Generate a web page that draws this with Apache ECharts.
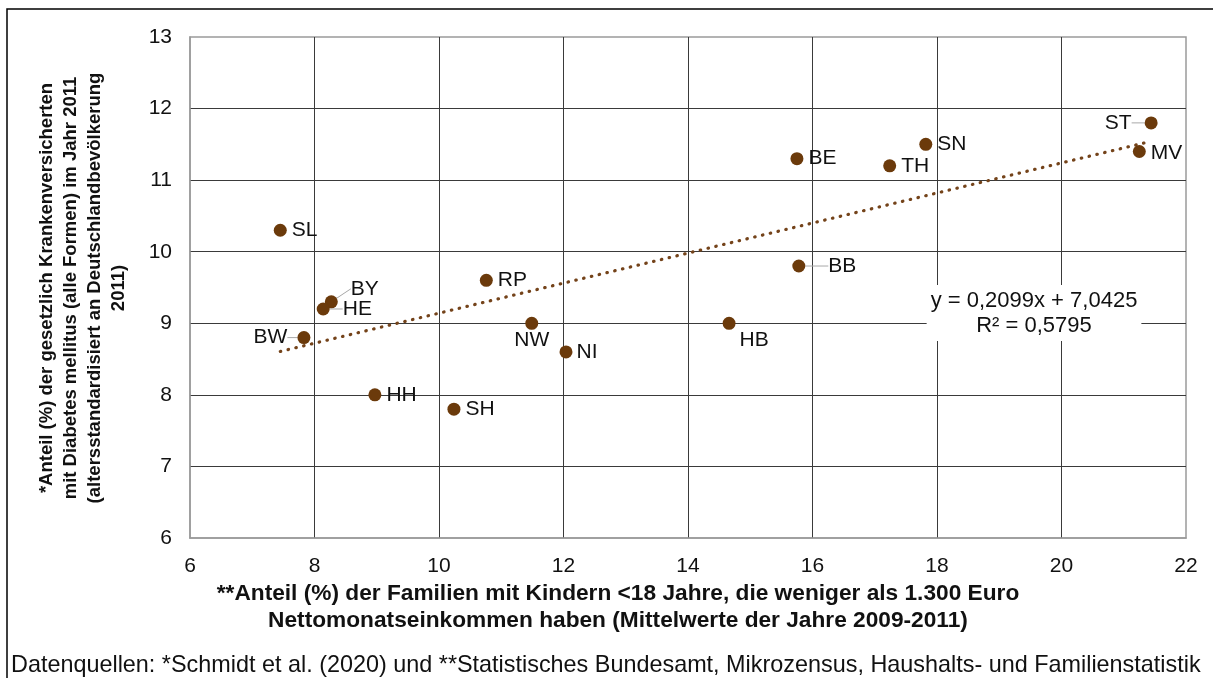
<!DOCTYPE html>
<html>
<head>
<meta charset="utf-8">
<script src="https://cdn.jsdelivr.net/npm/echarts@6/dist/echarts.min.js"></script>
<style>
  html, body { margin: 0; padding: 0; background: #fff; }
  #chart { width: 1213px; height: 678px; }
</style>
</head>
<body>
<div id="chart"></div>
<script>
// Bundesländer: Familien mit geringem Einkommen vs. Diabetes-Anteil
const states = ['SL', 'BY', 'HE', 'BW', 'HH', 'SH', 'RP', 'NW', 'NI', 'HB', 'BB', 'BE', 'TH', 'SN', 'ST', 'MV'];
const incomeShare = [7.45, 8.27, 8.14, 7.83, 8.97, 10.24, 10.76, 11.49, 12.04, 14.66, 15.78, 15.75, 17.24, 17.82, 21.44, 21.25];
const diabetesShare = [10.3, 9.3, 9.2, 8.8, 8.0, 7.8, 9.6, 9.0, 8.6, 9.0, 9.8, 11.3, 11.2, 11.5, 11.8, 11.4];

// Linear trend as stated in the equation label
const trendSlope = 0.2099;
const trendIntercept = 7.0425;
const trendR2 = 0.5795;

const xTicks = [6, 8, 10, 12, 14, 16, 18, 20, 22];
const yTicks = [6, 7, 8, 9, 10, 11, 12, 13];

const fmt = (v, d) => v.toFixed(d).replace('.', ',');

// Label placement: [position, distance, dx, dy, leader line]
const labelPos = {
  SL: ['right', 5, 0, 0, false], BY: ['right', 5, 8, -13, true], HE: ['right', 5, 8, 0, true],
  BW: ['left', 5, -5, 0, true], HH: ['right', 5, 0, 0, false], SH: ['right', 5, 0, 0, false],
  RP: ['right', 5, 0, 0, false], NW: ['bottom', 0, 0, 0, false], NI: ['right', 4, 0, 0, false],
  HB: [[17, 13], 0, 0, 0, false], BB: ['right', 5, 18, 0, true], BE: ['right', 5, 0, 0, false],
  TH: ['right', 5, 0, 0, false], SN: ['right', 5, 0, 0, false], ST: ['left', 5, -8, 0, true],
  MV: ['right', 5, 0, 2, false]
};

const points = states.map((s, i) => {
  const lp = labelPos[s];
  return {
    name: s,
    value: [incomeShare[i], diabetesShare[i]],
    label: { position: lp[0], distance: lp[1] },
    labelLine: { show: lp[4] }
  };
});
const xMin = Math.min(...incomeShare), xMax = Math.max(...incomeShare);
const trend = [[xMin, trendSlope * xMin + trendIntercept], [xMax, trendSlope * xMax + trendIntercept]];

const brown = '#6B3A0B';
const font = '"Liberation Sans", Arial, sans-serif';

const chart = echarts.init(document.getElementById('chart'), null, { renderer: 'canvas' });
chart.setOption({
  animation: false,
  backgroundColor: '#fff',
  grid: { left: 190, right: 27, top: 37, bottom: 140, show: true, borderColor: '#9a9a9a', borderWidth: 1.5 },
  xAxis: {
    type: 'value', min: xTicks[0], max: xTicks[xTicks.length - 1], interval: 2,
    axisLine: { show: true, onZero: false, lineStyle: { color: '#9a9a9a', width: 1.5 } },
    axisTick: { show: false },
    axisLabel: { color: '#111', fontSize: 21, fontFamily: font, margin: 18 },
    splitLine: { show: true, showMinLine: false, showMaxLine: false, lineStyle: { color: '#3a3a3a', width: 1 } }
  },
  yAxis: {
    type: 'value', min: yTicks[0], max: yTicks[yTicks.length - 1], interval: 1,
    axisLine: { show: true, onZero: false, lineStyle: { color: '#9a9a9a', width: 1.5 } },
    axisTick: { show: false },
    axisLabel: { color: '#111', fontSize: 21, fontFamily: font, margin: 18 },
    splitLine: { show: true, showMinLine: false, showMaxLine: false, lineStyle: { color: '#3a3a3a', width: 1 } }
  },
  series: [
    {
      type: 'line',
      data: trend,
      showSymbol: false,
      symbol: 'none',
      lineStyle: { color: '#74431a', width: 3.2, type: [0.5, 7.5], cap: 'round' },
      silent: true,
      z: 2
    },
    {
      type: 'scatter',
      data: points,
      symbolSize: 13,
      itemStyle: { color: brown, opacity: 1 },
      label: {
        show: true,
        formatter: p => p.name,
        color: '#111',
        fontSize: 21,
        fontFamily: font
      },
      labelLine: { lineStyle: { color: '#a8a8a8', width: 1 } },
      labelLayout: params => {
        const lp = labelPos[states[params.dataIndex]];
        return { dx: lp[2], dy: lp[3] };
      },
      z: 3
    }
  ],
  graphic: [
    { type: 'polyline', shape: { points: [[7, 690], [7, 9], [1220, 9]] }, style: { stroke: '#000', lineWidth: 1.5, fill: null } },
    {
      type: 'text', x: 83, y: 288, rotation: Math.PI / 2,
      style: {
        text: '*Anteil (%) der gesetzlich Krankenversicherten\nmit Diabetes mellitus (alle Formen) im Jahr 2011\n(altersstandardisiert an Deutschlandbevölkerung\n2011)',
        font: 'bold 18.5px ' + font, fill: '#111', align: 'center', verticalAlign: 'middle', lineHeight: 24
      }
    },
    {
      type: 'text', x: 618, y: 607,
      style: {
        text: '**Anteil (%) der Familien mit Kindern <18 Jahre, die weniger als 1.300 Euro\nNettomonatseinkommen haben (Mittelwerte der Jahre 2009-2011)',
        font: 'bold 22.7px ' + font, fill: '#111', align: 'center', verticalAlign: 'middle', lineHeight: 27
      }
    },
    {
      type: 'text', x: 11, y: 666,
      style: {
        text: 'Datenquellen: *Schmidt et al. (2020) und **Statistisches Bundesamt, Mikrozensus, Haushalts- und Familienstatistik',
        font: '23.4px ' + font, fill: '#111', align: 'left', verticalAlign: 'middle'
      }
    },
    {
      type: 'text', x: 1034, y: 313, z: 10,
      style: {
        text: 'y = ' + fmt(trendSlope, 4) + 'x + ' + fmt(trendIntercept, 4) + '\nR² = ' + fmt(trendR2, 4),
        font: '22px ' + font, fill: '#111', align: 'center', verticalAlign: 'middle', lineHeight: 25,
        backgroundColor: '#fff', padding: [3, 4]
      }
    }
  ]
});
</script>
</body>
</html>
